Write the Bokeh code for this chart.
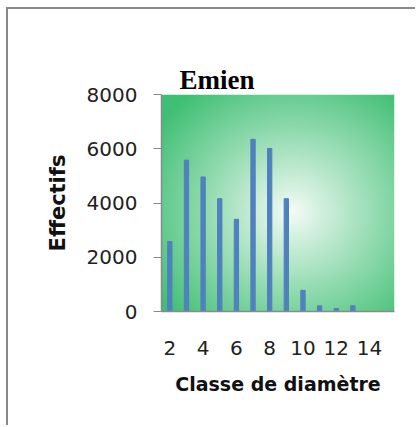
import numpy as np
from bokeh.plotting import figure
from bokeh.models import Range1d, FixedTicker, Title
from bokeh.embed import file_html
from bokeh.resources import INLINE

# ---- data ----
classes = [2, 3, 4, 5, 6, 7, 8, 9, 10, 11, 12, 13]
effectifs = [2580, 5580, 4960, 4160, 3400, 6350, 6010, 4160, 780, 210, 110, 210]
x_ticks = [2, 4, 6, 8, 10, 12, 14]
y_ticks = [0, 2000, 4000, 6000, 8000]
title_text = "Emien"
x_title = "Classe de diamètre"
y_title = "Effectifs"

X0, X1 = 1.5, 15.5
Y0, Y1 = 0, 8000

p = figure(width=409, height=418, output_backend="svg", toolbar_location=None,
           x_range=Range1d(X0, X1), y_range=Range1d(Y0, Y1),
           min_border_left=153, min_border_right=23, min_border_top=85,
           min_border_bottom=116)
p.styles = {"border-left": "2px solid #8a8a8a", "border-top": "2px solid #8a8a8a",
            "margin-left": "6px", "margin-top": "7px"}

p.outline_line_color = None
p.background_fill_color = "white"
p.border_fill_color = "white"
p.grid.visible = False

# real title (outer), then a transparent spacer panel next to the frame
main_title = Title(text=title_text, align="left", offset=18, standoff=0,
                   text_font="Liberation Serif", text_font_style="bold",
                   text_font_size="27px", text_color="black")
p.add_layout(main_title, "above")
spacer = Title(text=".", text_font_size="1px", standoff=33, text_alpha=0)
p.add_layout(spacer, "above")

# radial gradient background of the plot area
W, H = 240, 220
u = (np.arange(W) + 0.5) / W
v = (np.arange(H) + 0.5) / H  # from bottom
U, V = np.meshgrid(u, v)
cx, cy = 0.56, 0.46
r = np.sqrt(((U - cx) / 0.5) ** 2 + ((V - cy) / 0.5) ** 2) / np.sqrt(2)
t = np.clip(r, 0, 1) ** 0.95
c0 = np.array([246, 252, 248])
c1 = np.array([62, 191, 115])
img = np.empty((H, W), dtype=np.uint32)
view = img.view(dtype=np.uint8).reshape((H, W, 4))
for k in range(3):
    view[:, :, k] = (c0[k] + (c1[k] - c0[k]) * t).astype(np.uint8)
view[:, :, 3] = 255
p.image_rgba(image=[img], x=X0, y=Y0, dw=X1 - X0, dh=Y1 - Y0)

p.vbar(x=classes, top=effectifs, bottom=0, width=0.26, color="#4F81BD")

# axes
ax = p.xaxis[0]
ax.ticker = FixedTicker(ticks=x_ticks)
ax.major_tick_out = 0
ax.major_tick_in = 0
ax.minor_tick_out = 0
ax.minor_tick_in = 0
ax.axis_line_color = "#8a8a8a"
ax.axis_line_width = 1.5
ax.major_label_text_font = "DejaVu Sans"
ax.major_label_text_font_size = "20px"
ax.major_label_text_color = "#222222"
ax.major_label_standoff = 29
ax.axis_label = x_title
ax.axis_label_text_font = "DejaVu Sans"
ax.axis_label_text_font_style = "bold"
ax.axis_label_text_font_size = "19px"
ax.axis_label_text_color = "#111111"
ax.axis_label_standoff = 15

ay = p.yaxis[0]
ay.ticker = FixedTicker(ticks=y_ticks)
ay.major_tick_out = 8
ay.major_tick_in = 0
ay.minor_tick_out = 0
ay.minor_tick_in = 0
ay.major_tick_line_color = "#8a8a8a"
ay.axis_line_color = "#8a8a8a"
ay.axis_line_width = 1.5
ay.major_label_text_font = "DejaVu Sans"
ay.major_label_text_font_size = "20px"
ay.major_label_text_color = "#222222"
ay.major_label_standoff = 16
ay.axis_label = y_title
ay.axis_label_text_font = "DejaVu Sans"
ay.axis_label_text_font_style = "bold"
ay.axis_label_text_font_size = "21px"
ay.axis_label_text_color = "#111111"
ay.axis_label_standoff = 14

open("out.html", "w").write(file_html(p, INLINE))
